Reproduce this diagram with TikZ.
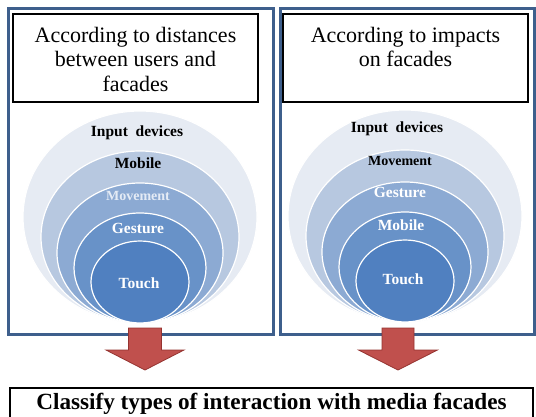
\documentclass[tikz,border=0pt]{standalone}
\usepackage{fontspec}
\setmainfont{Liberation Serif}
\usepackage{tikz}
\usetikzlibrary{positioning}

\definecolor{frameblue}{HTML}{3E5F8C}
\definecolor{ringA}{HTML}{E6EBF3}
\definecolor{ringB}{HTML}{B7C8E0}
\definecolor{ringC}{HTML}{8CAAD3}
\definecolor{ringD}{HTML}{6892C8}
\definecolor{ringE}{HTML}{5080C0}
\definecolor{arrowred}{HTML}{C0504D}
\definecolor{arrowedge}{HTML}{953330}
\definecolor{lighttext}{HTML}{E4EBF5}

\begin{document}
\begin{tikzpicture}[x=1pt,y=-1pt]
\tikzstyle{every node}+=[inner sep=0pt]
\tikzstyle{panel}=[draw=frameblue, line width=3pt]
\tikzstyle{titlebox}=[draw=black, line width=1.3pt, fill=white, minimum width=245pt, minimum height=88pt]
\tikzstyle{titletext}=[font=\fontsize{22}{24.5}\selectfont, align=center, anchor=north]
\tikzstyle{ring}=[draw=white, line width=1.2pt]
\tikzstyle{lbl}=[font=\fontsize{15.5}{18}\selectfont\bfseries, anchor=base]
\tikzstyle{blockarrow}=[fill=arrowred, draw=arrowedge, line width=0.8pt, line join=miter]
\useasboundingbox (0,0) rectangle (536,416);
\fill [white] (0,0) rectangle (536,416);
% the two panels
\node [panel, minimum width=265pt, minimum height=326pt] (pnlL) at (140.5,171) {};
\node [panel, minimum width=254pt, minimum height=326pt] (pnlR) at (407,171) {};
\node [titlebox] (ttlL) at (135.5,58) {};
\node [titlebox] (ttlR) at (405.5,58) {};
\node [titletext] (ttlLtxt) at (135.5,27) {According to distances\\between users and\\facades};
\node [titletext] (ttlRtxt) at (405.5,27) {According to impacts\\on facades};
% left rings
\filldraw [ring, fill=ringA] (140,217) ellipse (117pt and 106pt);
\filldraw [ring, fill=ringB] (140,237) ellipse (99pt and 86pt);
\filldraw [ring, fill=ringC] (140,253) ellipse (83pt and 70pt);
\filldraw [ring, fill=ringD] (140,268) ellipse (66pt and 55pt);
\filldraw [ring, fill=ringE] (140,282) ellipse (49pt and 41pt);
\node [lbl] (inL) at (137,136) {Input\ \ devices};
\node [lbl] (mobL) at (138,168) {Mobile};
\node [lbl, lighttext, font=\fontsize{14}{16}\selectfont\bfseries] (movL) at (138,200) {Movement};
\node [lbl, white] (gesL) at (138,233) {Gesture};
\node [lbl, white] (touL) at (139,288) {Touch};
% right rings
\filldraw [ring, fill=ringA] (405,216) ellipse (117pt and 106pt);
\filldraw [ring, fill=ringB] (405,236) ellipse (99pt and 86pt);
\filldraw [ring, fill=ringC] (405,252) ellipse (83pt and 70pt);
\filldraw [ring, fill=ringD] (405,267) ellipse (66pt and 55pt);
\filldraw [ring, fill=ringE] (405,281) ellipse (49pt and 41pt);
\node [lbl] (inR) at (397,132) {Input\ \ devices};
\node [lbl, font=\fontsize{14}{16}\selectfont\bfseries] (movR) at (400,165) {Movement};
\node [lbl, white] (gesR) at (400,197) {Gesture};
\node [lbl, white] (mobR) at (401,230) {Mobile};
\node [lbl, white] (touR) at (403,284) {Touch};
% block arrows down to the result
\coordinate (tipL) at (145,370);
\coordinate (tipR) at (398,370);
\filldraw [blockarrow] (tipL) -- ++(-39,-20) -- ++(22.5,0) -- ++(0,-22) -- ++(33,0) -- ++(0,22) -- ++(22.5,0) -- cycle;
\filldraw [blockarrow] (tipR) -- ++(-39.5,-20) -- ++(23.5,0) -- ++(0,-22) -- ++(32,0) -- ++(0,22) -- ++(23.5,0) -- cycle;
\node [draw=black, line width=1.3pt, minimum width=523pt, minimum height=32pt, font=\fontsize{23.2}{26}\selectfont\bfseries] (classify) at (271.5,404) {Classify types of interaction with media facades};
\end{tikzpicture}
\end{document}
